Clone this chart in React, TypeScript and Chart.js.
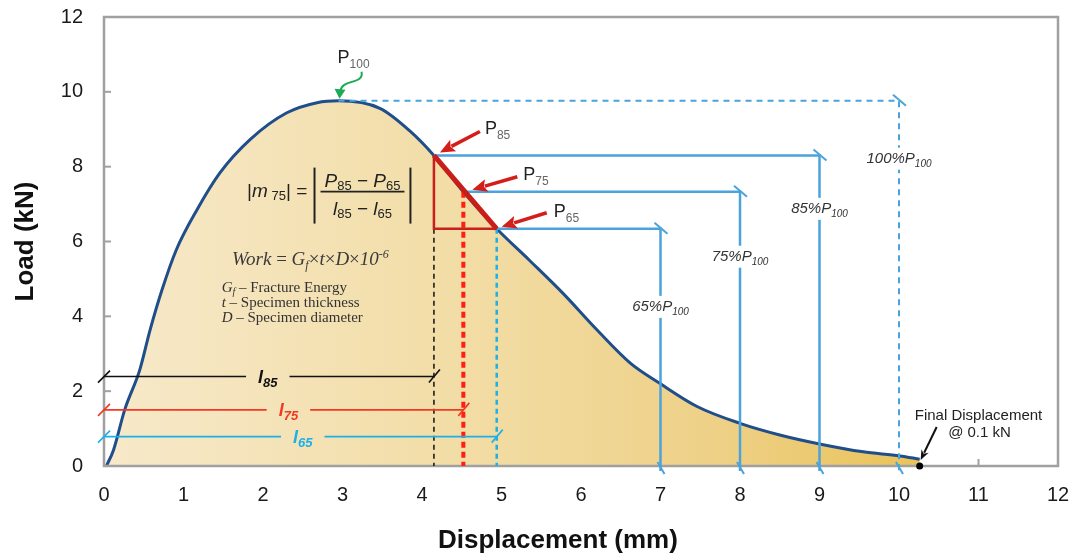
import React, { useEffect, useRef } from "react";
import { Chart, registerables } from "chart.js";

Chart.register(...registerables);

// ---- data ----
const displacement = [0.03, 0.12, 0.26, 0.45, 0.58, 0.73, 0.91, 1.17, 1.46, 1.84, 2.3, 2.68, 2.95, 3.47, 3.85, 4.15, 4.52, 4.94, 5.36, 5.78, 6.2, 6.62, 6.99, 7.46, 8.0, 8.5, 9.0, 9.55, 10.01, 10.26];
const load = [0, 0.43, 1.5, 2.57, 3.64, 4.71, 5.78, 6.85, 7.84, 8.73, 9.44, 9.71, 9.76, 9.56, 8.95, 8.3, 7.33, 6.34, 5.48, 4.6, 3.64, 2.75, 2.21, 1.59, 1.14, 0.83, 0.59, 0.38, 0.27, 0.18];

const xTickValues = [0, 1, 2, 3, 4, 5, 6, 7, 8, 9, 10, 11, 12];
const yTickValues = [0, 2, 4, 6, 8, 10, 12];
const xAxisTitle = "Displacement (mm)";
const yAxisTitle = "Load (kN)";

const levelPercents = ["100", "85", "75", "65"];
const levelLoads = [9.76, 8.3, 7.33, 6.34];
const levelStartDisp = [2.95, 4.15, 4.52, 4.94];
const levelEndDisp = [10.0, 9.0, 8.0, 7.0];
const levelLabelLoad = [8.24, 6.9, 5.62, 4.28];

const spanSubs = ["85", "75", "65"];
const spanEndDisp = [4.15, 4.52, 4.94];
const spanLoads = [2.39, 1.5, 0.785];
const spanLabelDisp = [2.06, 2.32, 2.5];

const finalDisp = 10.26;
const finalLoad = 0;

const formulaAnchor = [1.8, 7.2];
const workAnchor = [1.61, 5.38];
const legendAnchor = [1.48, 4.66];
const finalTextAnchor = [11.0, 1.23];
const xTitleCenter = 5.71;

const SANS = '"Liberation Sans", Arial, sans-serif';
const SERIF = '"Liberation Serif", "Times New Roman", serif';

type Run = { t: string; f: string; dy?: number; c?: string };

function runsWidth(ctx: CanvasRenderingContext2D, runs: Run[]) {
  let w = 0;
  for (const r of runs) {
    ctx.font = r.f;
    w += ctx.measureText(r.t).width;
  }
  return w;
}

function drawRuns(ctx: CanvasRenderingContext2D, x: number, y: number, runs: Run[], align = "left", color = "#222") {
  const w = runsWidth(ctx, runs);
  let cx = align === "center" ? x - w / 2 : align === "right" ? x - w : x;
  ctx.textBaseline = "alphabetic";
  ctx.textAlign = "left";
  for (const r of runs) {
    ctx.font = r.f;
    ctx.fillStyle = r.c || color;
    ctx.fillText(r.t, cx, y + (r.dy || 0));
    cx += ctx.measureText(r.t).width;
  }
  return w;
}

function seg(ctx: CanvasRenderingContext2D, pts: number[][], color: string, width: number, dash: number[] = []) {
  ctx.save();
  ctx.strokeStyle = color;
  ctx.lineWidth = width;
  ctx.setLineDash(dash);
  ctx.beginPath();
  pts.forEach((p, i) => (i === 0 ? ctx.moveTo(p[0], p[1]) : ctx.lineTo(p[0], p[1])));
  ctx.stroke();
  ctx.restore();
}

function arrow(ctx: CanvasRenderingContext2D, x1: number, y1: number, x2: number, y2: number, color: string, width: number, head: number, headW: number) {
  const ang = Math.atan2(y2 - y1, x2 - x1);
  const bx = x2 - head * Math.cos(ang);
  const by = y2 - head * Math.sin(ang);
  seg(ctx, [[x1, y1], [bx + Math.cos(ang) * 2, by + Math.sin(ang) * 2]], color, width);
  ctx.save();
  ctx.fillStyle = color;
  ctx.beginPath();
  ctx.moveTo(x2, y2);
  ctx.lineTo(bx + (headW / 2) * Math.sin(ang), by - (headW / 2) * Math.cos(ang));
  ctx.lineTo(bx + 3 * Math.cos(ang), by + 3 * Math.sin(ang));
  ctx.lineTo(bx - (headW / 2) * Math.sin(ang), by + (headW / 2) * Math.cos(ang));
  ctx.closePath();
  ctx.fill();
  ctx.restore();
}

const annotate = {
  id: "annotate",
  beforeDatasetsDraw(chart: any) {
    const { ctx, chartArea: a, scales } = chart;
    const x = scales.x, y = scales.y;
    ctx.save();
    ctx.strokeStyle = "#A0A0A0";
    ctx.lineWidth = 2;
    yTickValues.forEach((v) => {
      const py = y.getPixelForValue(v);
      ctx.beginPath();
      ctx.moveTo(a.left, py);
      ctx.lineTo(a.left + 7, py);
      ctx.stroke();
    });
    xTickValues.forEach((v) => {
      const px = x.getPixelForValue(v);
      ctx.beginPath();
      ctx.moveTo(px, a.bottom);
      ctx.lineTo(px, a.bottom - 7);
      ctx.stroke();
    });
    ctx.restore();
  },
  afterDatasetsDraw(chart: any) {
    const { ctx, chartArea: a, scales } = chart;
    const X = (v: number) => scales.x.getPixelForValue(v);
    const Y = (v: number) => scales.y.getPixelForValue(v);

    // frame
    ctx.save();
    ctx.strokeStyle = "#A0A0A0";
    ctx.lineWidth = 2.5;
    ctx.strokeRect(a.left, a.top, a.right - a.left, a.bottom - a.top);
    ctx.restore();

    // x axis title (offset left of the plot centre, as in the reference)
    ctx.save();
    ctx.font = `bold 26px ${SANS}`;
    ctx.fillStyle = "#111";
    ctx.textAlign = "center";
    ctx.textBaseline = "middle";
    ctx.fillText(xAxisTitle, X(xTitleCenter), a.bottom + 75);
    ctx.restore();

    // level lines (100/85/75/65 % of P100)
    const blue = "#4BA3DB";
    levelLoads.forEach((L, i) => {
      const x0 = X(levelStartDisp[i]);
      const x1 = X(levelEndDisp[i]);
      const yy = Y(L);
      const dash = i === 0 ? [6, 5] : [];
      const w = i === 0 ? 2 : 2.5;
      seg(ctx, [[x0, yy], [x1, yy], [x1, a.bottom + 5]], blue, w, dash);
      seg(ctx, [[x1 - 6, yy - 6], [x1 + 7, yy + 5]], blue, 2);
      seg(ctx, [[x1 - 3, a.bottom - 4], [x1 + 4, a.bottom + 8]], blue, 2);
      const runs: Run[] = [
        { t: levelPercents[i] + "%P", f: `italic 15px ${SANS}` },
        { t: "100", f: `italic 10px ${SANS}`, dy: 4 },
      ];
      const lw = runsWidth(ctx, runs);
      const ly = Y(levelLabelLoad[i]);
      ctx.fillStyle = "#fff";
      ctx.fillRect(x1 - lw / 2 - 2, ly - 10, lw + 4, 22);
      drawRuns(ctx, x1, ly + 5, runs, "center", "#333");
    });

    // vertical drop lines
    seg(ctx, [[X(spanEndDisp[0]), Y(levelLoads[3])], [X(spanEndDisp[0]), a.bottom]], "#111", 1.5, [5, 4]);
    seg(ctx, [[X(spanEndDisp[1]), Y(levelLoads[2])], [X(spanEndDisp[1]), a.bottom]], "#FF1E10", 4, [6, 4]);
    seg(ctx, [[X(spanEndDisp[2]), Y(levelLoads[3])], [X(spanEndDisp[2]), a.bottom]], "#1AB0E8", 2.5, [5, 4]);

    // red triangle
    const p85 = [X(levelStartDisp[1]), Y(levelLoads[1])];
    const p75 = [X(levelStartDisp[2]), Y(levelLoads[2])];
    const p65 = [X(levelStartDisp[3]), Y(levelLoads[3])];
    seg(ctx, [p85, [p85[0], p65[1]], p65], "#C8201C", 2.5);
    seg(ctx, [p85, p65], "#C81E1A", 5);

    // span (displacement) dimension lines
    const spanColors = ["#111111", "#F03A24", "#1AB0E8"];
    spanLoads.forEach((L, i) => {
      const yy = Y(L);
      const x0 = a.left;
      const x1 = X(spanEndDisp[i]);
      const runs: Run[] = [
        { t: "l", f: `italic bold 18px ${SANS}` },
        { t: spanSubs[i], f: `italic bold 13px ${SANS}`, dy: 4 },
      ];
      const lw = runsWidth(ctx, runs);
      const cx = X(spanLabelDisp[i]);
      seg(ctx, [[x0, yy], [cx - lw / 2 - 12, yy]], spanColors[i], 1.6);
      seg(ctx, [[cx + lw / 2 + 12, yy], [x1, yy]], spanColors[i], 1.6);
      seg(ctx, [[x0 - 6, yy + 6], [x0 + 6, yy - 6]], spanColors[i], 1.6);
      seg(ctx, [[x1 - 5, yy + 6], [x1 + 6, yy - 7]], spanColors[i], 1.6);
      drawRuns(ctx, cx, yy + 6, runs, "center", spanColors[i]);
    });

    // red arrows + P labels
    const red = "#D41E1A";
    const pts = [p85, p75, p65];
    const tails = [[46, -24], [54, -15], [50, -16]];
    const heads = [[6, -3], [9, -2], [5, -2]];
    const labs = [[51, -21], [60, -12], [57, -12]];
    pts.forEach((p, i) => {
      arrow(ctx, p[0] + tails[i][0], p[1] + tails[i][1], p[0] + heads[i][0], p[1] + heads[i][1], red, 3.5, 15, 13);
      drawRuns(ctx, p[0] + labs[i][0], p[1] + labs[i][1], [
        { t: "P", f: `18px ${SANS}` },
        { t: spanSubs[i], f: `12px ${SANS}`, dy: 5, c: "#666" },
      ], "left", "#222");
    });

    // P100 and green arrow
    const pk = [X(levelStartDisp[0]), Y(levelLoads[0])];
    drawRuns(ctx, pk[0] - 1, pk[1] - 38, [
      { t: "P", f: `18px ${SANS}` },
      { t: "100", f: `12px ${SANS}`, dy: 5, c: "#666" },
    ], "left", "#222");
    ctx.save();
    ctx.strokeStyle = "#1DAA55";
    ctx.lineWidth = 2;
    ctx.beginPath();
    ctx.moveTo(pk[0] + 23, pk[1] - 29);
    ctx.bezierCurveTo(pk[0] + 26, pk[1] - 16, pk[0] + 3, pk[1] - 22, pk[0] + 2, pk[1] - 10);
    ctx.stroke();
    ctx.fillStyle = "#1DAA55";
    ctx.beginPath();
    ctx.moveTo(pk[0] + 1, pk[1] - 2);
    ctx.lineTo(pk[0] - 4, pk[1] - 12);
    ctx.lineTo(pk[0] + 7, pk[1] - 11);
    ctx.closePath();
    ctx.fill();
    ctx.restore();

    // slope formula
    const fx = X(formulaAnchor[0]);
    const fy = Y(formulaAnchor[1]);
    const F = `19px ${SANS}`;
    const FI = `italic 19px ${SANS}`;
    const FS = `13px ${SANS}`;
    let cx = fx;
    cx += drawRuns(ctx, cx, fy, [
      { t: "|", f: F },
      { t: "m", f: FI },
      { t: " 75", f: FS, dy: 3 },
      { t: "|", f: F },
      { t: " = ", f: F },
    ], "left", "#222");
    seg(ctx, [[cx + 2, fy - 29], [cx + 2, fy + 27]], "#222", 2);
    const num: Run[] = [
      { t: "P", f: FI }, { t: "85", f: FS, dy: 3 }, { t: " \u2212 ", f: F }, { t: "P", f: FI }, { t: "65", f: FS, dy: 3 },
    ];
    const den: Run[] = [
      { t: "l", f: FI }, { t: "85", f: FS, dy: 3 }, { t: " \u2212 ", f: F }, { t: "l", f: FI }, { t: "65", f: FS, dy: 3 },
    ];
    const fw = Math.max(runsWidth(ctx, num), runsWidth(ctx, den)) + 8;
    const fl = cx + 8;
    seg(ctx, [[fl, fy - 5], [fl + fw, fy - 5]], "#222", 1.8);
    drawRuns(ctx, fl + fw / 2, fy - 10, num, "center", "#222");
    drawRuns(ctx, fl + fw / 2, fy + 18, den, "center", "#222");
    seg(ctx, [[fl + fw + 6, fy - 29], [fl + fw + 6, fy + 27]], "#222", 2);

    // work formula
    const S = `italic 19px ${SERIF}`;
    const SR = `19px ${SERIF}`;
    const SS = `italic 12px ${SERIF}`;
    drawRuns(ctx, X(workAnchor[0]), Y(workAnchor[1]), [
      { t: "Work", f: S }, { t: " = ", f: SR }, { t: "G", f: S }, { t: "f", f: SS, dy: 4 },
      { t: "\u00d7", f: SR }, { t: "t", f: S }, { t: "\u00d7", f: SR }, { t: "D", f: S },
      { t: "\u00d7", f: SR }, { t: "10", f: S }, { t: "-6", f: SS, dy: -7 },
    ], "left", "#3a3a3a");
    const L1 = `15px ${SERIF}`;
    const LI = `italic 15px ${SERIF}`;
    const lx = X(legendAnchor[0]);
    const ly0 = Y(legendAnchor[1]);
    drawRuns(ctx, lx, ly0, [{ t: "G", f: LI }, { t: "f", f: `italic 10px ${SERIF}`, dy: 3 }, { t: " \u2013 Fracture Energy", f: L1 }], "left", "#333");
    drawRuns(ctx, lx, ly0 + 15, [{ t: "t", f: LI }, { t: " \u2013 Specimen thickness", f: L1 }], "left", "#333");
    drawRuns(ctx, lx, ly0 + 30, [{ t: "D", f: LI }, { t: " \u2013 Specimen diameter", f: L1 }], "left", "#333");

    // final displacement
    const fdx = X(finalDisp);
    const fdy = Y(finalLoad);
    const tx = X(finalTextAnchor[0]);
    const ty = Y(finalTextAnchor[1]);
    drawRuns(ctx, tx, ty, [{ t: "Final Displacement", f: `15px ${SANS}` }], "center", "#222");
    drawRuns(ctx, tx + 1, ty + 17, [{ t: "@ 0.1 kN", f: `15px ${SANS}` }], "center", "#222");
    arrow(ctx, fdx + 17, fdy - 39, fdx + 1, fdy - 6, "#111", 2, 10, 8);
    ctx.save();
    ctx.fillStyle = "#000";
    ctx.beginPath();
    ctx.arc(fdx, fdy, 3.5, 0, Math.PI * 2);
    ctx.fill();
    ctx.restore();
  },
};

const zeroPad = (s: any) => {
  s.paddingTop = 0;
  s.paddingBottom = 0;
  s.paddingLeft = 0;
  s.paddingRight = 0;
};

export default function App() {
  const ref = useRef<HTMLCanvasElement>(null);
  useEffect(() => {
    const canvas = ref.current;
    if (!canvas) return;
    const chart = new Chart(canvas, {
      type: "line",
      data: {
        datasets: [
          {
            data: displacement.map((d, i) => ({ x: d, y: load[i] })),
            borderColor: "#1F4E8A",
            borderWidth: 3,
            pointRadius: 0,
            fill: "origin",
            cubicInterpolationMode: "monotone",
            backgroundColor: (c: any) => {
              const ch = c.chart;
              const area = ch.chartArea;
              if (!area) return "rgba(0,0,0,0)";
              const g = ch.ctx.createLinearGradient(area.left, 0, area.right, 0);
              g.addColorStop(0, "#F7E9CA");
              g.addColorStop(0.4, "#F2DCA3");
              g.addColorStop(0.65, "#EED086");
              g.addColorStop(0.86, "#EAC257");
              g.addColorStop(1, "#E8BC4C");
              return g;
            },
          },
        ],
      },
      options: {
        responsive: false,
        animation: false,
        devicePixelRatio: 1,
        layout: { padding: { top: 17, right: 16, left: 0, bottom: 0 } },
        plugins: { legend: { display: false }, tooltip: { enabled: false } },
        scales: {
          x: {
            type: "linear",
            min: 0,
            max: 12,
            afterBuildTicks: (s: any) => {
              s.ticks = xTickValues.map((v) => ({ value: v }));
            },
            afterFit: (s: any) => {
              s.height = 91;
              zeroPad(s);
            },
            grid: { display: false, drawTicks: false },
            border: { display: false },
            ticks: { font: { family: SANS, size: 20 }, color: "#1a1a1a", padding: 17, maxRotation: 0, autoSkip: false },
            title: { display: false },
          },
          y: {
            type: "linear",
            min: 0,
            max: 12,
            afterBuildTicks: (s: any) => {
              s.ticks = yTickValues.map((v) => ({ value: v }));
            },
            afterFit: (s: any) => {
              s.width = 104;
              zeroPad(s);
            },
            grid: { display: false, drawTicks: false },
            border: { display: false },
            ticks: { font: { family: SANS, size: 20 }, color: "#1a1a1a", padding: 21 },
            title: { display: true, text: yAxisTitle, font: { family: SANS, size: 26, weight: "bold" }, color: "#111", padding: { top: 10, bottom: 0 } },
          },
        },
      } as any,
      plugins: [annotate as any],
    });
    return () => chart.destroy();
  }, []);
  return (
    <div style={{ position: "fixed", left: 0, top: 0, width: 1074, height: 557, background: "#fff" }}>
      <canvas ref={ref} width={1074} height={557} style={{ display: "block" }} />
    </div>
  );
}
